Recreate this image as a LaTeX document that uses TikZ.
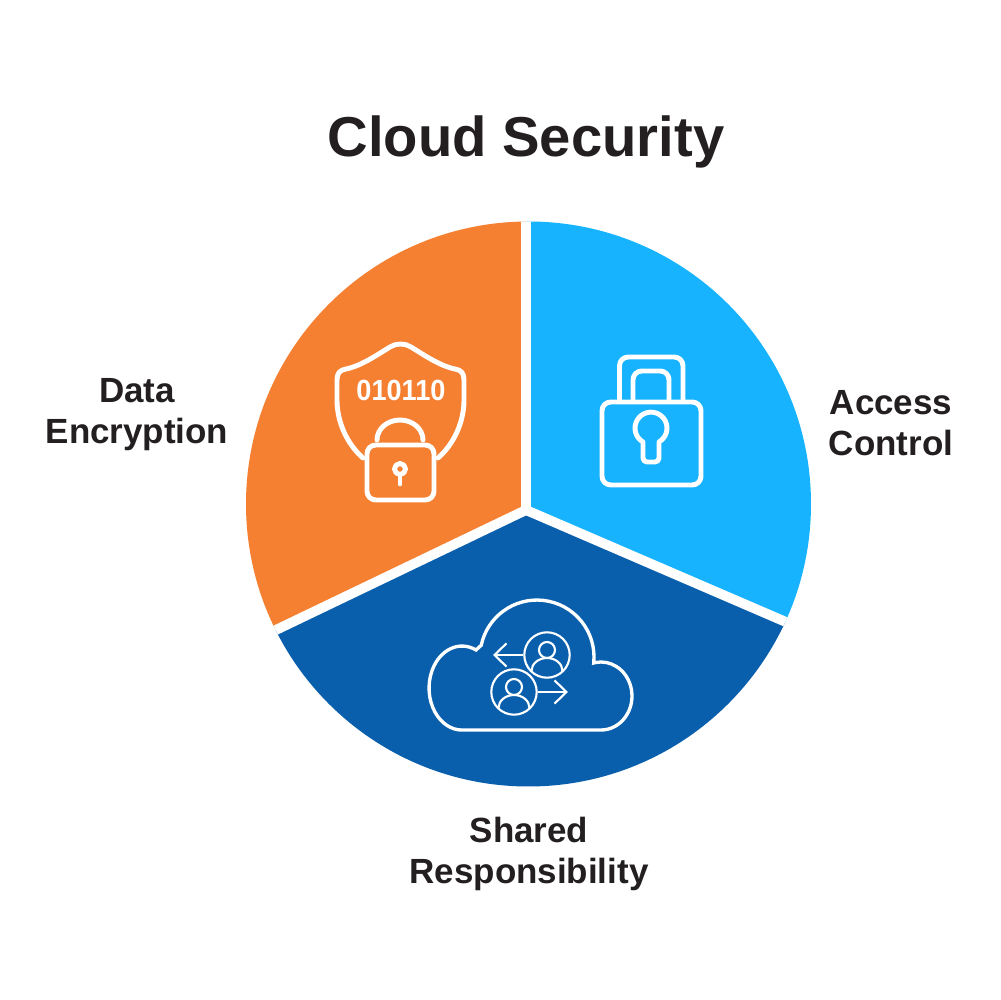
\documentclass[tikz,border=0pt]{standalone}
\usepackage{fontspec}
\setmainfont{Liberation Sans}
\usepackage{xcolor}
\usepackage{tikz}
\usetikzlibrary{arrows.meta, positioning, calc}
\definecolor{dataorange}{HTML}{F58031}
\definecolor{accessblue}{HTML}{17B3FE}
\definecolor{sharedblue}{HTML}{0A5FAD}
\definecolor{inkblack}{HTML}{231F20}

\begin{document}
\begin{tikzpicture}[
  x=0.1mm, y=0.1mm,
  heading/.style={text=inkblack, font=\fontsize{16}{20}\selectfont\bfseries},
  sectorlabel/.style={text=inkblack, align=center, inner sep=0pt,
                      font=\fontsize{9.95}{11.7}\selectfont\bfseries},
  divider/.style={draw=white, line width=2.8pt},
  iconbold/.style={draw=white, line width=1.4pt, line join=round, line cap=round, rounded corners=2.5pt},
  usercircle/.style={circle, draw=white, line width=0.6pt, minimum size=45.4*0.1mm, inner sep=0pt},
  userline/.style={draw=white, line width=0.6pt},
  flow/.style={draw=white, line width=0.6pt, -{Straight Barb[length=3.4pt, width=6.6pt]}},
]
  \useasboundingbox (0,0) rectangle (1000,1000);

  % Title
  \node[heading] (title) at (526,858) {Cloud Security};

  % Pie
  \coordinate (hub) at (526,490);
  \begin{scope}
    \clip (528.5,496) circle (282.5);
    \fill[dataorange] (hub) -- (526,800) -- (230,800) -- (230,348) -- cycle;
    \fill[accessblue] (hub) -- (526,800) -- (830,800) -- (830,359) -- cycle;
    \fill[sharedblue] (hub) -- (830,359) -- (830,190) -- (230,190) -- (230,348) -- cycle;
    \draw[divider] (hub) -- (526,800);
    \draw[divider] (hub) -- (830,359);
    \draw[divider] (hub) -- (230,348);
  \end{scope}

  % Sector labels
  \node[sectorlabel] (dataLabel) at (137,585) {Data\\Encryption};
  \node[sectorlabel] (accessLabel) at (891,577) {Access\\Control};
  \node[sectorlabel] (sharedLabel) at (529,146) {Shared\\Responsibility};

  % Shield
  \draw[iconbold, rounded corners=0pt] (363,542) .. controls (347,556) and (337,578) .. (337,600)
    -- (337,620) .. controls (337,627) and (340,630) .. (346,631)
    .. controls (361,634) and (377,645) .. (390,653)
    .. controls (396,657) and (405,657) .. (411,653)
    .. controls (424,645) and (440,634) .. (455,631)
    .. controls (461,630) and (464,627) .. (464,620)
    -- (464,600) .. controls (464,578) and (454,556) .. (438,542);
  \node[text=white, inner sep=0pt, xscale=0.93, transform shape,
        font=\fontsize{8.3}{10}\selectfont\bfseries] (bits) at (401,610) {010110};

  % Small padlock
  \draw[iconbold] (367,500) rectangle (434,555);
  \draw[iconbold] (377,560) arc[start angle=180, end angle=0, x radius=23, y radius=20];
  \draw[iconbold] (400,531) circle (5.5);
  \draw[iconbold] (400,525) -- (400,516);

  % Large padlock
  \draw[iconbold] (602,515) rectangle (701,598);
  \draw[iconbold] (619.5,600) -- (619.5,643) -- (683,643) -- (683,600);
  \draw[iconbold] (633,600) -- (633,629) -- (669,629) -- (669,600);
  \draw[iconbold, rounded corners=0pt] (643,558) arc[start angle=240, end angle=-60, radius=16]
    -- (659,542) arc[start angle=0, end angle=-90, radius=4]
    -- (647,538) arc[start angle=270, end angle=180, radius=4] -- cycle;

  % Cloud
  \draw[draw=white, line width=0.95pt] (462,270) -- (601,270)
    arc[start angle=-90, end angle=100, x radius=31, y radius=34]
    -- (593.7,337) arc[start angle=-6, end angle=168, radius=57]
    -- (476,350) arc[start angle=65, end angle=270, x radius=33, y radius=42];

  % Users
  \foreach \nm/\cx/\cy in {userA/547/345, userB/514/308} {
    \node[usercircle] (\nm) at (\cx,\cy) {};
    \draw[userline] (\cx,\cy) ++(0,5) circle (8);
    \draw[userline] (\cx,\cy) ++(-15.5,-16) arc[start angle=180, end angle=0, x radius=15.5, y radius=13];
  }
  \coordinate (tipA) at (493,345);
  \coordinate (tipB) at (568,308);
  \draw[flow] (userA) -- (tipA);
  \draw[flow] (userB) -- (tipB);
\end{tikzpicture}
\end{document}
